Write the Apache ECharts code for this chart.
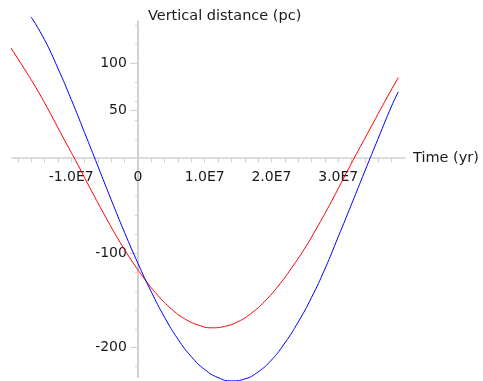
<!DOCTYPE html>
<html>
<head>
<meta charset="utf-8">
<script src="https://cdn.jsdelivr.net/npm/echarts@6/dist/echarts.min.js"></script>
<style>
  html, body { margin: 0; padding: 0; background: #ffffff; }
  #chart { width: 483px; height: 381px; }
</style>
</head>
<body>
<div id="chart"></div>
<script>
// ---- data (time in years, vertical distance in pc) ----
const redTimes = [-19.1e6, -17e6, -15e6, -13e6, -11e6, -9e6, -7e6, -5e6, -3e6, -1e6,
  1e6, 3e6, 5e6, 7e6, 9e6, 11e6, 13e6, 15e6, 17e6, 19e6,
  21e6, 23e6, 25e6, 27e6, 29e6, 31e6, 33e6, 35e6, 37e6, 39e6];
const redValues = [117, 94, 71, 45.5, 19, -7, -34, -60, -85, -107.5,
  -127.5, -145, -159, -169.5, -176, -179, -177.5, -172.5, -163.5, -151,
  -135, -116, -95, -71, -45.5, -18.5, 8, 34, 60, 85];

const blueTimes = [-16e6, -14e6, -12e6, -10e6, -8e6, -6e6, -4e6, -2e6, 0, 2e6,
  4e6, 6e6, 8e6, 10e6, 12e6, 14e6, 16e6, 18e6, 20e6, 22e6,
  24e6, 26e6, 28e6, 30e6, 32e6, 34e6, 36e6, 38e6, 39e6];
const blueValues = [149, 125, 95, 62, 27, -8.5, -44, -78.5, -111, -141,
  -168, -191, -209.5, -223, -231.5, -235, -233, -225.5, -213, -195,
  -173, -147, -117, -83, -48.5, -13.5, 21, 55, 70];

const xTickValues = [-18e6, -16e6, -14e6, -12e6, -10e6, -8e6, -6e6, -4e6, -2e6, 0,
  2e6, 4e6, 6e6, 8e6, 10e6, 12e6, 14e6, 16e6, 18e6, 20e6,
  22e6, 24e6, 26e6, 28e6, 30e6, 32e6, 34e6, 36e6, 38e6];
const xLabelValues = [-1e7, 0, 1e7, 2e7, 3e7];
const xLabelTexts = ['-1.0E7', '0', '1.0E7', '2.0E7', '3.0E7'];

const yTickValues = [-220, -200, -180, -160, -140, -120, -100, -80, -60, -40, -20,
  20, 40, 50, 60, 80, 100, 120, 140];
const yLabelValues = [-200, -100, 50, 100];
const yLabelTexts = ['-200', '-100', '50', '100'];

const xName = 'Time (yr)';
const yName = 'Vertical distance (pc)';

// ---- layout (pixels) ----
const X_MIN = -18.9e6, X_MAX = 40e6, Y_MIN = -231, Y_MAX = 144;
const G_LEFT = 11.75, G_RIGHT = 78, G_TOP = 21.6, G_BOTTOM = 3.9;
const W = 483, H = 381;
const gw = W - G_LEFT - G_RIGHT, gh = H - G_TOP - G_BOTTOM;
// place each axis where the other axis is zero (onZero keeps labels at the grid edge in v6)
const yAxisOffset = -((0 - X_MIN) / (X_MAX - X_MIN)) * gw;
const xAxisOffset = -((0 - Y_MIN) / (Y_MAX - Y_MIN)) * gh;

// ---- chart ----
const redData = redTimes.map((t, i) => [t, redValues[i]]);
const blueData = blueTimes.map((t, i) => [t, blueValues[i]]);

const axisGray = '#d0d0d0';
const textColor = '#1a1a1a';
const fontFamily = '"DejaVu Sans", Verdana, sans-serif';

function pickLabel(values, texts, tol) {
  return function (v) {
    const n = Number(v);
    for (let i = 0; i < values.length; i++) {
      if (Math.abs(values[i] - n) < tol) return texts[i];
    }
    return '';
  };
}

const chart = echarts.init(document.getElementById('chart'), null, { renderer: 'canvas' });
chart.setOption({
  backgroundColor: '#ffffff',
  animation: false,
  grid: {
    left: G_LEFT, right: G_RIGHT, top: G_TOP, bottom: G_BOTTOM,
    containLabel: false, outerBoundsMode: 'none'
  },
  xAxis: [{
    type: 'value',
    min: X_MIN, max: X_MAX,
    splitNumber: 6,
    position: 'bottom',
    offset: xAxisOffset,
    name: xName,
    nameLocation: 'end',
    nameGap: 8,
    nameTextStyle: { color: textColor, fontSize: 14.5, fontFamily: fontFamily, align: 'left', verticalAlign: 'middle' },
    axisLine: { show: true, onZero: false, lineStyle: { color: axisGray, width: 1.5 } },
    axisTick: { show: true, inside: false, length: 4.5, customValues: xTickValues, lineStyle: { color: axisGray, width: 1 } },
    axisLabel: {
      show: true, margin: 12, color: textColor, fontSize: 14, fontFamily: fontFamily,
      showMinLabel: false, showMaxLabel: false, hideOverlap: false,
      formatter: pickLabel(xLabelValues, xLabelTexts, 1)
    },
    splitLine: { show: false }
  }],
  yAxis: [{
    type: 'value',
    min: Y_MIN, max: Y_MAX,
    splitNumber: 8,
    position: 'left',
    offset: yAxisOffset,
    name: yName,
    nameLocation: 'end',
    nameGap: 5,
    nameTextStyle: { color: textColor, fontSize: 14.5, fontFamily: fontFamily, align: 'left', verticalAlign: 'middle', padding: [0, 0, 0, 10] },
    axisLine: { show: true, onZero: false, lineStyle: { color: axisGray, width: 2 } },
    axisTick: { show: true, inside: false, length: 3, customValues: yTickValues, lineStyle: { color: axisGray, width: 1 } },
    axisLabel: {
      show: true, margin: 11, color: textColor, fontSize: 14, fontFamily: fontFamily,
      showMinLabel: false, showMaxLabel: false, hideOverlap: false,
      formatter: pickLabel(yLabelValues, yLabelTexts, 1e-6)
    },
    splitLine: { show: false }
  }, {
    type: 'value',
    min: Y_MIN, max: Y_MAX,
    position: 'left',
    offset: yAxisOffset,
    axisLine: { show: false, onZero: false },
    axisTick: { show: true, inside: false, length: 8, customValues: yLabelValues, lineStyle: { color: axisGray, width: 1 } },
    axisLabel: { show: false },
    splitLine: { show: false }
  }],
  series: [{
    name: 'red',
    type: 'line',
    xAxisIndex: 0, yAxisIndex: 0,
    data: redData,
    showSymbol: false,
    smooth: true,
    clip: false,
    lineStyle: { color: '#ff0000', width: 1 },
    z: 3
  }, {
    name: 'blue',
    type: 'line',
    xAxisIndex: 0, yAxisIndex: 0,
    data: blueData,
    showSymbol: false,
    smooth: true,
    clip: false,
    lineStyle: { color: '#0000ff', width: 1 },
    z: 4
  }]
});
</script>
</body>
</html>
